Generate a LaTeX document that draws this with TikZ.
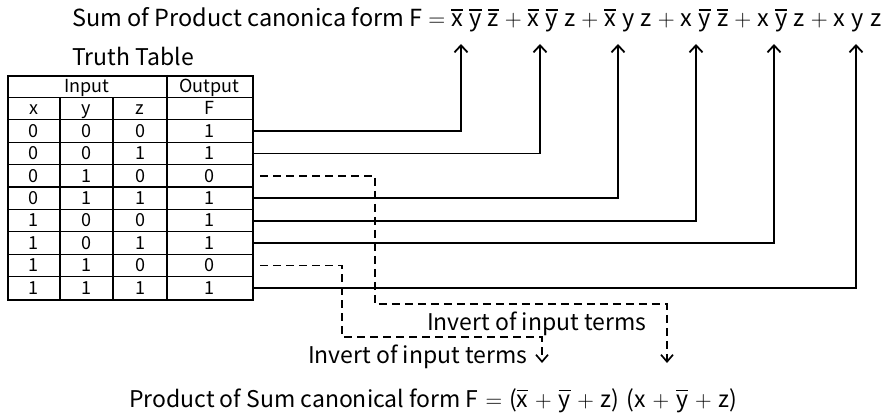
\documentclass[tikz,border=0pt]{standalone}
\usepackage{fontspec}
\setmainfont{Noto Sans CJK JP}
\newfontfamily\opfont{Latin Modern Roman}
\usetikzlibrary{arrows.meta}
% complemented literal: letter with a bar over it
\newcommand\olt[1]{\leavevmode\vbox{\hrule height 1.3pt\kern 3.6pt\hbox{#1}}}
\newcommand\tsp{\hspace{0.27em}}
\newcommand\pl{\hspace{0.25em}{\opfont +}\hspace{0.25em}}
\newcommand\eq{\hspace{0.25em}{\opfont =}\hspace{0.25em}}
\newcommand\plw{\hspace{0.3em}{\opfont +}\hspace{0.3em}}
\newcommand\eqw{\hspace{0.3em}{\opfont =}\hspace{0.3em}}
\begin{document}
\begin{tikzpicture}[x=1pt,y=-1pt,
  cell/.style={font=\fontsize{18}{18}\selectfont, inner sep=0pt, anchor=base},
  bigtext/.style={font=\fontsize{23}{23}\selectfont, inner sep=0pt, anchor=base west},
  conn/.style={line width=1.8pt},
  inv/.style={line width=1.7pt, dash pattern=on 8pt off 5pt},
  uptip/.style={-{Straight Barb[length=7pt,width=13pt]}},
  downtip/.style={-{Straight Barb[length=7pt,width=12pt]}},
  thin/.style={line width=1.1pt}]
\useasboundingbox (0,0) rectangle (882,417);

% headings
\node[bigtext, font=\fontsize{23.5}{23.5}\selectfont] (sop) at (72,27) {Sum of Product canonica form F\eq
  \olt{x}\tsp\olt{y}\tsp\olt{z}\pl\olt{x}\tsp\olt{y}\tsp z\pl\olt{x}\tsp y\tsp z\pl
  x\tsp\olt{y}\tsp\olt{z}\pl x\tsp\olt{y}\tsp z\pl x\tsp y\tsp z};
\node[bigtext] (title) at (72,66) {Truth Table};

% truth table frame and grid
\node[draw, line width=2.2pt, minimum width=245pt, minimum height=224pt,
  inner sep=0pt, anchor=north west] (tbl) at (7,75) {};
\foreach \i in {1,...,9}
  \draw[thin] ({7},{75+\i*22.4}) -- ({252},{75+\i*22.4});
\draw[thin] (60,97.4) -- (60,299);
\draw[thin] (113,97.4) -- (113,299);
\draw[thin] (167,75) -- (167,299);

\node[cell] (hin) at (87,92.4) {Input};
\node[cell] (hout) at (209.5,92.4) {Output};
\node[cell] (hx) at (33.5,114.8) {x};
\node[cell] (hy) at (86.5,114.8) {y};
\node[cell] (hz) at (140,114.8) {z};
\node[cell] (hf) at (209.5,114.8) {F};

\foreach \x/\y/\z/\f [count=\i] in {0/0/0/1,0/0/1/1,0/1/0/0,0/1/1/1,1/0/0/1,1/0/1/1,1/1/0/0,1/1/1/1}{
  \node[cell] (x\i) at ({33.5},{114.8+\i*22.4}) {\x};
  \node[cell] (y\i) at ({86.5},{114.8+\i*22.4}) {\y};
  \node[cell] (z\i) at ({140},{114.8+\i*22.4}) {\z};
  \node[cell] (f\i) at ({209.5},{114.8+\i*22.4}) {\f};
  \coordinate (o\i) at ({252},{108.6+\i*22.4});
  \coordinate (d\i) at ({260},{108.6+\i*22.4});
}

% minterm arrow targets
\coordinate (t1) at (461,44);
\coordinate (t2) at (540,44);
\coordinate (t3) at (618,44);
\coordinate (t4) at (696,44);
\coordinate (t5) at (774,44);
\coordinate (t6) at (856,44);

% rows with F = 1 feed the sum of products
\draw[conn,uptip] (o1) -| (t1);
\draw[conn,uptip] (o2) -| (t2);
\draw[conn,uptip] (o4) -| (t3);
\draw[conn,uptip] (o5) -| (t4);
\draw[conn,uptip] (o6) -| (t5);
\draw[conn,uptip] (o8) -| (t6);

% rows with F = 0 feed the product of sums
\coordinate (b1) at (375,304);
\coordinate (e1) at (667,363);
\coordinate (b2) at (342,337);
\coordinate (e2) at (542,363);
\draw[inv,downtip] (d3) -| (b1) -| (e1);
\draw[inv,downtip] (d7) -| (b2) -| (e2);

\node[bigtext] (inv1) at (427,330) {Invert of input terms};
\node[bigtext] (inv2) at (308,363) {Invert of input terms};

\node[bigtext] (pos) at (129,407) {Product of Sum canonical form F\eqw
  (\olt{x}\plw\olt{y}\plw z)\hspace{0.3em}(x\plw\olt{y}\plw z)};
\end{tikzpicture}
\end{document}
